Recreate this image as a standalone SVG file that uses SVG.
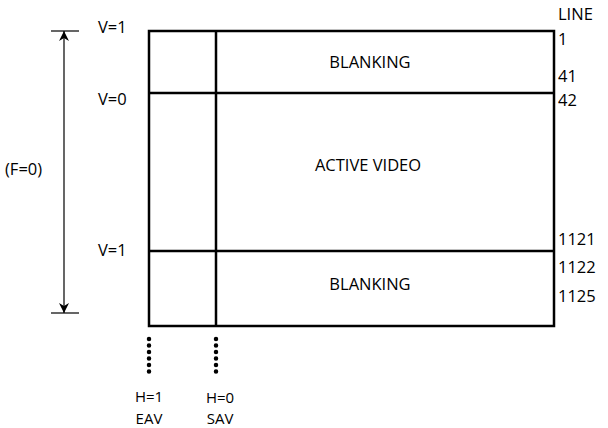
<svg xmlns="http://www.w3.org/2000/svg" width="608" height="428" viewBox="0 0 608 428">
<defs>
<style>
text{font-family:"Open Sans","Noto Sans",sans-serif;font-size:16.5px;fill:#000}
.m{text-anchor:middle}
.h{font-size:15px}
.frame{fill:none;stroke:#000;stroke-width:2.5}
.thin{stroke:#000;stroke-width:1.2;fill:none}
.dot{stroke:#000;stroke-width:4.5;stroke-linecap:round;stroke-dasharray:0 6.5;fill:none}
</style>
<marker id="ah" viewBox="0 0 10 10" refX="10" refY="5" markerWidth="10" markerHeight="10" markerUnits="userSpaceOnUse" orient="auto">
<path d="M0,0 L10,5 L0,10 L3,5 Z" fill="#000"/>
</marker>
</defs>
<g id="frame">
<rect class="frame" x="149" y="31" width="405" height="295"/>
<line class="frame" x1="149" y1="93" x2="554" y2="93"/>
<line class="frame" x1="149" y1="251" x2="554" y2="251"/>
<line class="frame" x1="216" y1="31" x2="216" y2="326"/>
</g>
<g id="blank-top"><text class="m" x="370" y="68">BLANKING</text></g>
<g id="active"><text class="m" x="368" y="171">ACTIVE VIDEO</text></g>
<g id="blank-bottom"><text class="m" x="370" y="290">BLANKING</text></g>
<g id="v-labels">
<text x="98" y="33">V=1</text>
<text x="98" y="105">V=0</text>
<text x="98" y="256">V=1</text>
</g>
<g id="line-labels">
<text x="558" y="20">LINE</text>
<text x="558" y="45">1</text>
<text x="558" y="82">41</text>
<text x="558" y="106">42</text>
<text x="558" y="245">1121</text>
<text x="558" y="273">1122</text>
<text x="558" y="302">1125</text>
</g>
<g id="field"><text x="5" y="175">(F=0)</text></g>
<g id="h-labels">
<text class="m h" x="149" y="402">H=1</text>
<text class="m h" x="149" y="424">EAV</text>
<text class="m h" x="220" y="403">H=0</text>
<text class="m h" x="220" y="424">SAV</text>
</g>
<g id="connectors">
<line class="thin" x1="51" y1="31" x2="79" y2="31"/>
<line class="thin" x1="51" y1="313" x2="79" y2="313"/>
<line class="thin" x1="64" y1="172" x2="64" y2="31" marker-end="url(#ah)"/>
<line class="thin" x1="64" y1="172" x2="64" y2="313" marker-end="url(#ah)"/>
<line class="dot" x1="149" y1="339" x2="149" y2="373"/>
<line class="dot" x1="216" y1="339" x2="216" y2="373"/>
</g>
</svg>
